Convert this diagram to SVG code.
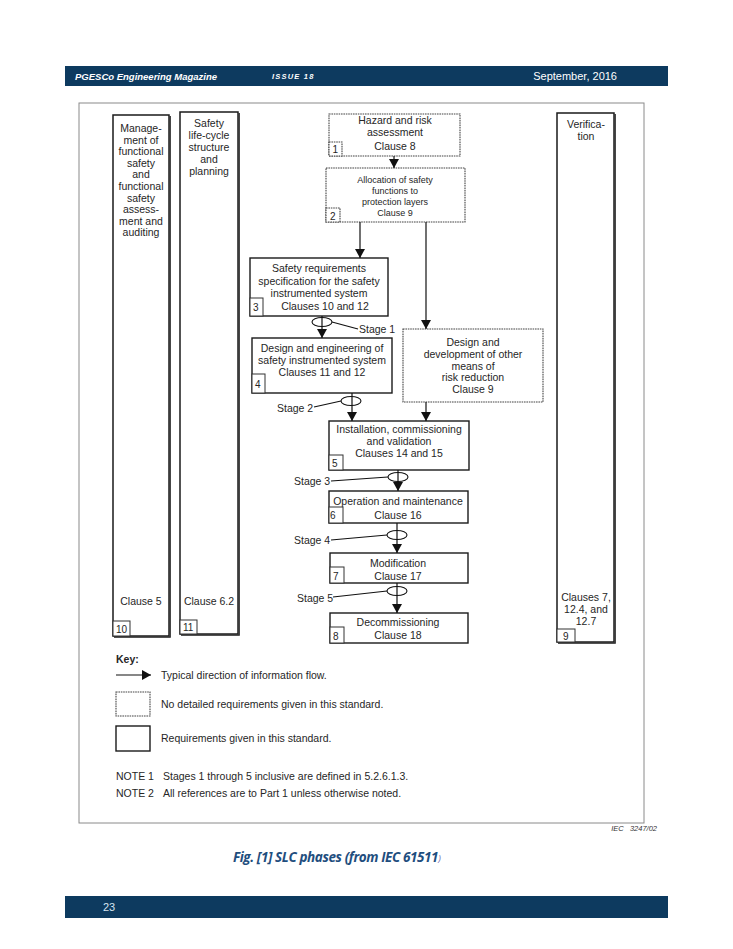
<svg xmlns="http://www.w3.org/2000/svg" width="733" height="949" viewBox="0 0 733 949">
<defs>
<style>
.t{font-family:"Liberation Sans",Arial,sans-serif;font-size:10.5px;fill:#262626;text-anchor:middle}
.ts{font-family:"Liberation Sans",Arial,sans-serif;font-size:9px;fill:#262626;text-anchor:middle}
.tl{font-family:"Liberation Sans",Arial,sans-serif;font-size:10.5px;fill:#262626}
.n{font-family:"Liberation Sans",Arial,sans-serif;font-size:10px;fill:#262626}
.box{fill:#fff;stroke:#1a1a1a;stroke-width:1.4}
.dbox{fill:#fff;stroke:#444;stroke-width:1.1;stroke-dasharray:1.6 0.8}
.nb{fill:#fff;stroke:#333;stroke-width:1}
.col{fill:#fff;stroke:#1a1a1a;stroke-width:1.5}
.sh{stroke:#1a1a1a;stroke-width:1.2;fill:none}
.ln{stroke:#111;stroke-width:1.2;fill:none}
.ell{stroke:#111;stroke-width:1.1;fill:none}
.bar{fill:#0d3a5f}
</style>
<marker id="ah" markerWidth="9" markerHeight="10" refX="9" refY="5" orient="auto" markerUnits="userSpaceOnUse">
<path d="M0,0 L9,5 L0,10 z" fill="#111"/>
</marker>
</defs>
<rect width="733" height="949" fill="#fff"/>
<g id="header">
<rect class="bar" x="65" y="66" width="603" height="20"/>
<text x="75" y="79.5" font-family="Liberation Sans,Arial,sans-serif" font-size="9.5" font-weight="bold" font-style="italic" fill="#fff">PGESCo Engineering Magazine</text>
<text x="272" y="79" font-family="Liberation Sans,Arial,sans-serif" font-size="7.5" font-weight="bold" font-style="italic" fill="#fff" letter-spacing="1.2">ISSUE 18</text>
<text x="617" y="80" font-family="Liberation Sans,Arial,sans-serif" font-size="11" fill="#fff" text-anchor="end">September, 2016</text>
</g>
<rect id="frame" x="79" y="103" width="565" height="720" fill="none" stroke="#8a8a8a" stroke-width="1"/>
<g id="col10">
<rect class="col" x="113" y="115" width="56" height="521"/>
<path class="sh" d="M170.2,116 V637.2 H114"/>
<text class="t"><tspan x="141" y="132">Manage-</tspan><tspan x="141" y="143.6">ment of</tspan><tspan x="141" y="155.2">functional</tspan><tspan x="141" y="166.8">safety</tspan><tspan x="141" y="178.4">and</tspan><tspan x="141" y="190">functional</tspan><tspan x="141" y="201.6">safety</tspan><tspan x="141" y="213.2">assess-</tspan><tspan x="141" y="224.8">ment and</tspan><tspan x="141" y="236.4">auditing</tspan></text>
<text class="t" x="141" y="605">Clause 5</text>
<rect class="nb" x="113" y="621" width="17" height="15"/>
<text class="n" x="116" y="632.5">10</text>
</g>
<g id="col11">
<rect class="col" x="180" y="112" width="58" height="522"/>
<path class="sh" d="M239.2,113 V635.2 H181"/>
<text class="t"><tspan x="209" y="127">Safety</tspan><tspan x="209" y="139">life-cycle</tspan><tspan x="209" y="151">structure</tspan><tspan x="209" y="163">and</tspan><tspan x="209" y="175">planning</tspan></text>
<text class="t" x="209" y="605">Clause 6.2</text>
<rect class="nb" x="180" y="620" width="17" height="14"/>
<text class="n" x="183" y="631">11</text>
</g>
<g id="col9">
<rect class="col" x="557" y="113" width="57" height="529"/>
<path class="sh" d="M615.2,114 V643.2 H558"/>
<text class="t"><tspan x="586" y="128">Verifica-</tspan><tspan x="586" y="140">tion</tspan></text>
<text class="t"><tspan x="586" y="601">Clauses 7,</tspan><tspan x="586" y="613">12.4, and</tspan><tspan x="586" y="625">12.7</tspan></text>
<rect class="nb" x="557" y="629" width="18" height="13"/>
<text class="n" x="563" y="639.5">9</text>
</g>
<g id="n1">
<rect class="dbox" x="329" y="114" width="131" height="42"/>
<text class="t"><tspan x="395" y="124">Hazard and risk</tspan><tspan x="395" y="136">assessment</tspan><tspan x="395" y="150">Clause 8</tspan></text>
<rect class="dbox" x="329" y="142" width="13" height="14"/>
<text class="n" x="332.5" y="153">1</text>
</g>
<g id="n2">
<rect class="dbox" x="326" y="168" width="139" height="54"/>
<text class="ts"><tspan x="395" y="183">Allocation of safety</tspan><tspan x="395" y="194">functions to</tspan><tspan x="395" y="205">protection layers</tspan><tspan x="395" y="216">Clause 9</tspan></text>
<rect class="dbox" x="326" y="208" width="14" height="14"/>
<text class="n" x="330" y="219.5">2</text>
</g>
<g id="n3">
<rect class="box" x="250" y="258" width="138" height="58"/>
<text class="t"><tspan x="319" y="272">Safety requirements</tspan><tspan x="319" y="284.5">specification for the safety</tspan><tspan x="319" y="297">instrumented system</tspan><tspan x="325" y="310">Clauses 10 and 12</tspan></text>
<rect class="nb" x="250" y="298" width="13" height="18"/>
<text class="n" x="253" y="311">3</text>
</g>
<g id="n4">
<rect class="box" x="252" y="338" width="140" height="55"/>
<text class="t"><tspan x="322" y="352">Design and engineering of</tspan><tspan x="322" y="364">safety instrumented system</tspan><tspan x="322" y="376">Clauses 11 and 12</tspan></text>
<rect class="nb" x="252" y="374" width="13" height="19"/>
<text class="n" x="255" y="388">4</text>
</g>
<g id="nd">
<rect class="dbox" x="403" y="329" width="140" height="73"/>
<text class="t"><tspan x="473" y="346">Design and</tspan><tspan x="473" y="358">development of other</tspan><tspan x="473" y="369.5">means of</tspan><tspan x="473" y="381">risk reduction</tspan><tspan x="473" y="393">Clause 9</tspan></text>
</g>
<g id="n5">
<rect class="box" x="329" y="421" width="140" height="49"/>
<text class="t"><tspan x="399" y="433">Installation, commissioning</tspan><tspan x="399" y="445">and validation</tspan><tspan x="399" y="457">Clauses 14 and 15</tspan></text>
<rect class="nb" x="329" y="455" width="14" height="15"/>
<text class="n" x="332" y="467">5</text>
</g>
<g id="n6">
<rect class="box" x="329" y="491" width="139" height="32"/>
<text class="t"><tspan x="398" y="505">Operation and maintenance</tspan><tspan x="398" y="519">Clause 16</tspan></text>
<rect class="nb" x="329" y="507" width="14" height="16"/>
<text class="n" x="330" y="519">6</text>
</g>
<g id="n7">
<rect class="box" x="330" y="553" width="138" height="30"/>
<text class="t"><tspan x="398" y="567">Modification</tspan><tspan x="398" y="580">Clause 17</tspan></text>
<rect class="nb" x="330" y="567" width="14" height="16"/>
<text class="n" x="333" y="579.5">7</text>
</g>
<g id="n8">
<rect class="box" x="330" y="613" width="138" height="30"/>
<text class="t"><tspan x="398" y="626">Decommissioning</tspan><tspan x="398" y="639">Clause 18</tspan></text>
<rect class="nb" x="330" y="627" width="14" height="16"/>
<text class="n" x="333" y="639.5">8</text>
</g>
<g id="connectors">
<line class="ln" x1="394" y1="156" x2="394" y2="168" marker-end="url(#ah)"/>
<line class="ln" x1="360" y1="222" x2="360" y2="258" marker-end="url(#ah)"/>
<line class="ln" x1="426" y1="222" x2="426" y2="329" marker-end="url(#ah)"/>
<line class="ln" x1="322" y1="316" x2="322" y2="338" marker-end="url(#ah)"/>
<line class="ln" x1="352" y1="393" x2="352" y2="421" marker-end="url(#ah)"/>
<line class="ln" x1="426" y1="402" x2="426" y2="421" marker-end="url(#ah)"/>
<line class="ln" x1="398" y1="470" x2="398" y2="491" marker-end="url(#ah)"/>
<line class="ln" x1="397" y1="523" x2="397" y2="553" marker-end="url(#ah)"/>
<line class="ln" x1="397" y1="583" x2="397" y2="613" marker-end="url(#ah)"/>
<ellipse class="ell" cx="322" cy="322" rx="10" ry="4.5"/>
<line class="ln" x1="332" y1="322" x2="358" y2="329" stroke-width="0.9"/>
<text class="tl" x="359" y="333">Stage 1</text>
<ellipse class="ell" cx="351" cy="401" rx="10" ry="4.5"/>
<line class="ln" x1="314" y1="407" x2="341" y2="401" stroke-width="0.9"/>
<text class="tl" x="277" y="412">Stage 2</text>
<ellipse class="ell" cx="398" cy="477" rx="10" ry="4.5"/>
<line class="ln" x1="331" y1="481" x2="388" y2="477" stroke-width="0.9"/>
<text class="tl" x="294" y="485">Stage 3</text>
<ellipse class="ell" cx="397" cy="535" rx="10" ry="4.5"/>
<line class="ln" x1="331" y1="540" x2="387" y2="535" stroke-width="0.9"/>
<text class="tl" x="294" y="544">Stage 4</text>
<ellipse class="ell" cx="397" cy="591" rx="10" ry="4.5"/>
<line class="ln" x1="333" y1="597" x2="387" y2="591" stroke-width="0.9"/>
<text class="tl" x="297" y="602">Stage 5</text>
</g>
<g id="key">
<text x="116" y="663" font-family="Liberation Sans,Arial,sans-serif" font-size="10.5" font-weight="bold" fill="#262626">Key:</text>
<line class="ln" x1="116" y1="675" x2="151" y2="675" marker-end="url(#ah)"/>
<text class="tl" x="161" y="679">Typical direction of information flow.</text>
<rect class="dbox" x="116" y="692" width="34" height="24"/>
<text class="tl" x="161" y="708">No detailed requirements given in this standard.</text>
<rect class="box" x="116" y="726" width="34" height="25"/>
<text class="tl" x="161" y="742">Requirements given in this standard.</text>
</g>
<g id="notes">
<text class="tl" x="116" y="780">NOTE 1</text>
<text class="tl" x="163" y="780">Stages 1 through 5 inclusive are defined in 5.2.6.1.3.</text>
<text class="tl" x="116" y="797">NOTE 2</text>
<text class="tl" x="163" y="797">All references are to Part 1 unless otherwise noted.</text>
<text x="657" y="831" font-family="Liberation Sans,Arial,sans-serif" font-size="7.5" font-style="italic" fill="#333" text-anchor="end" xml:space="preserve">IEC   3247/02</text>
</g>
<g id="caption">
<text x="233" y="862" font-family="Open Sans,sans-serif" font-size="13.5" font-weight="bold" font-style="italic" fill="#1f4e7e" letter-spacing="-0.4">Fig. [1] SLC phases (from IEC 61511<tspan font-size="9" font-weight="normal" fill="#6b5fa8" letter-spacing="0">)</tspan></text>
</g>
<g id="footer">
<rect class="bar" x="65" y="896" width="603" height="22"/>
<text x="103" y="911" font-family="Liberation Sans,Arial,sans-serif" font-size="11" fill="#d6e4f0">23</text>
</g>
</svg>
